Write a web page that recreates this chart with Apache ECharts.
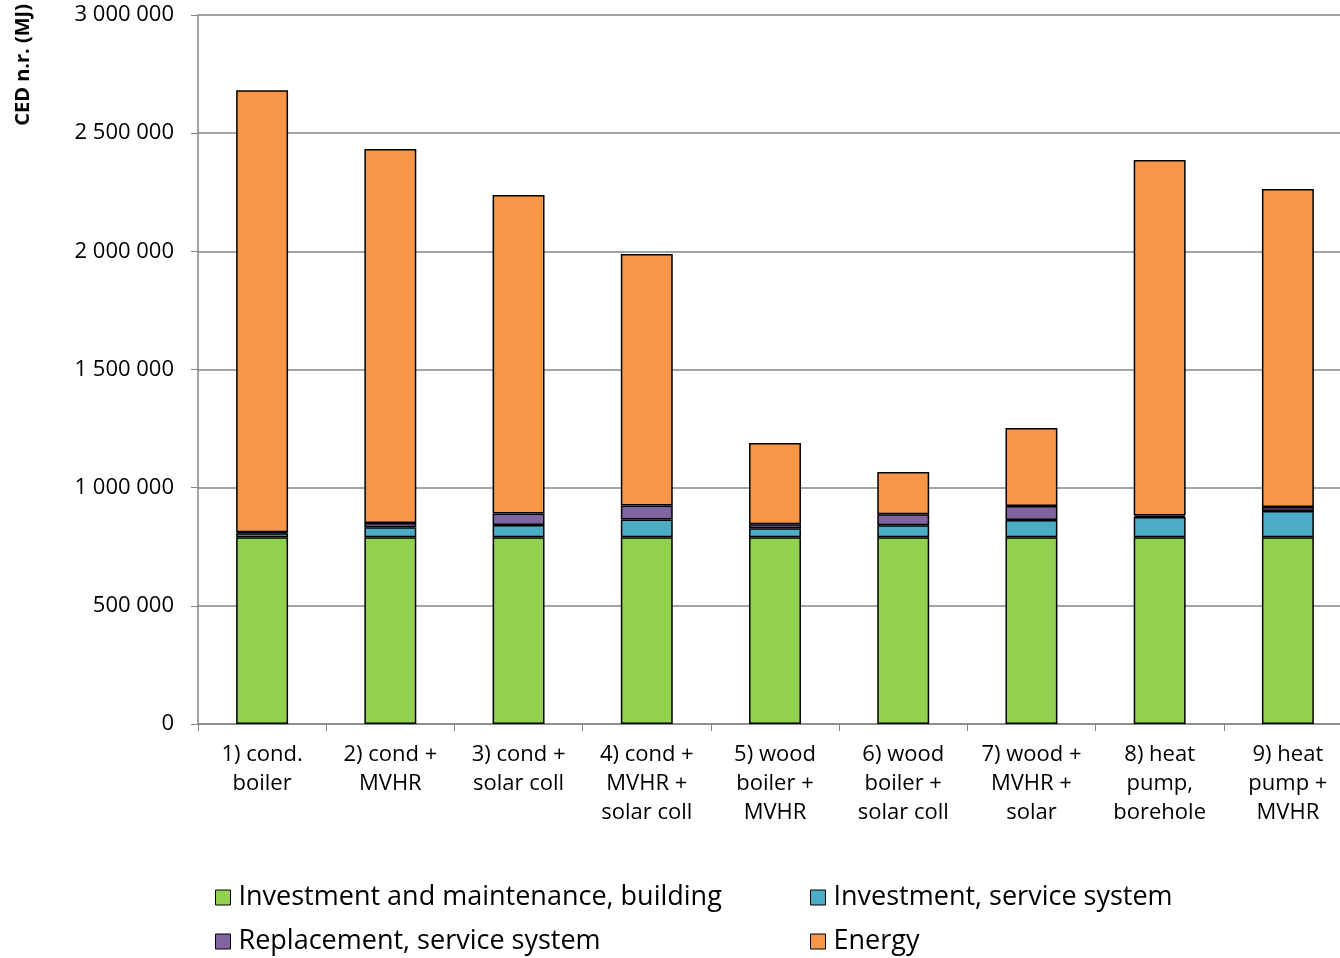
<!DOCTYPE html>
<html>
<head>
<meta charset="utf-8">
<script src="https://cdn.jsdelivr.net/npm/echarts@6/dist/echarts.min.js"></script>
<style>
  html, body { margin: 0; padding: 0; background: #fff; }
  #chart { width: 1340px; height: 958px; }
</style>
</head>
<body>
<div id="chart"></div>
<script>
var categories = [
    '1) cond.\nboiler',
    '2) cond +\nMVHR',
    '3) cond +\nsolar coll',
    '4) cond +\nMVHR +\nsolar coll',
    '5) wood\nboiler +\nMVHR',
    '6) wood\nboiler +\nsolar coll',
    '7) wood +\nMVHR +\nsolar',
    '8) heat\npump,\nborehole',
    '9) heat\npump +\nMVHR'
];

var building = [790000, 790000, 790000, 790000, 790000, 790000, 790000, 790000, 790000];
var serviceInvest = [17000, 42000, 52000, 75000, 38000, 51000, 73000, 86000, 111000];
var replacement = [4000, 18000, 49000, 60000, 17000, 47000, 59000, 6000, 17000];
var energy = [1871000, 1583000, 1347000, 1064000, 344000, 178000, 330000, 1504000, 1346000];

var yTicks = [0, 500000, 1000000, 1500000, 2000000, 2500000, 3000000];

var font = '"Open Sans", "Noto Sans", sans-serif';

var dom = document.getElementById('chart');
var myChart = echarts.init(dom);

function fmt(v) {
    return String(v).replace(/\B(?=(\d{3})+(?!\d))/g, ' ');
}

function barSeries(name, data, color) {
    return {
        name: name,
        type: 'bar',
        stack: 'total',
        barWidth: '40.5%',
        data: data,
        itemStyle: {
            color: color,
            borderColor: '#000',
            borderWidth: 1.5
        },
        emphasis: { disabled: true }
    };
}

// one legend per item so the 2x2 layout stays put
function legendItem(name, left, top) {
    return {
        left: left,
        top: top,
        padding: 0,
        itemWidth: 15,
        itemHeight: 15,
        icon: 'rect',
        itemStyle: { borderColor: '#000', borderWidth: 1 },
        textStyle: { fontFamily: font, fontSize: 27, color: '#000', padding: [0, 0, 0, 3] },
        selectedMode: false,
        data: [name]
    };
}

var option = {
    animation: false,
    textStyle: { fontFamily: font },
    grid: {
        left: 198,
        width: 1154,
        top: 15,
        bottom: 234,
        outerBoundsMode: 'none',
        containLabel: false
    },
    legend: [
        legendItem('Investment and maintenance, building', 215, 884),
        legendItem('Replacement, service system', 215, 928),
        legendItem('Investment, service system', 810, 884),
        legendItem('Energy', 810, 928)
    ],
    graphic: [{
        type: 'text',
        left: 13,
        top: 4,
        rotation: Math.PI / 2,
        style: {
            text: 'CED n.r. (MJ)',
            font: 'bold 20px ' + font,
            fill: '#000'
        }
    }],
    xAxis: {
        type: 'category',
        data: categories,
        boundaryGap: true,
        axisLine: { lineStyle: { color: '#868686', width: 1.5 } },
        axisTick: { show: true, length: 7, lineStyle: { color: '#868686' } },
        axisLabel: {
            color: '#000',
            fontSize: 22,
            lineHeight: 29,
            margin: 16,
            interval: 0
        }
    },
    yAxis: {
        type: 'value',
        min: 0,
        max: 3000000,
        interval: 500000,
        axisLine: { show: true, lineStyle: { color: '#868686', width: 1.5 } },
        axisTick: { show: true, length: 7, lineStyle: { color: '#868686' } },
        splitLine: { lineStyle: { color: '#868686', width: 1.5 } },
        axisLabel: {
            color: '#000',
            fontSize: 22,
            margin: 24,
            formatter: function (v) {
                return yTicks.indexOf(v) >= 0 ? fmt(v) : '';
            }
        }
    },
    series: [
        barSeries('Investment and maintenance, building', building, '#92D050'),
        barSeries('Investment, service system', serviceInvest, '#4BACC6'),
        barSeries('Replacement, service system', replacement, '#8064A2'),
        barSeries('Energy', energy, '#F79646')
    ]
};

if (option && typeof option === "object") {
    myChart.setOption(option, true);
}

window.addEventListener("resize", function() {
    myChart.resize();
});
</script>
</body>
</html>
